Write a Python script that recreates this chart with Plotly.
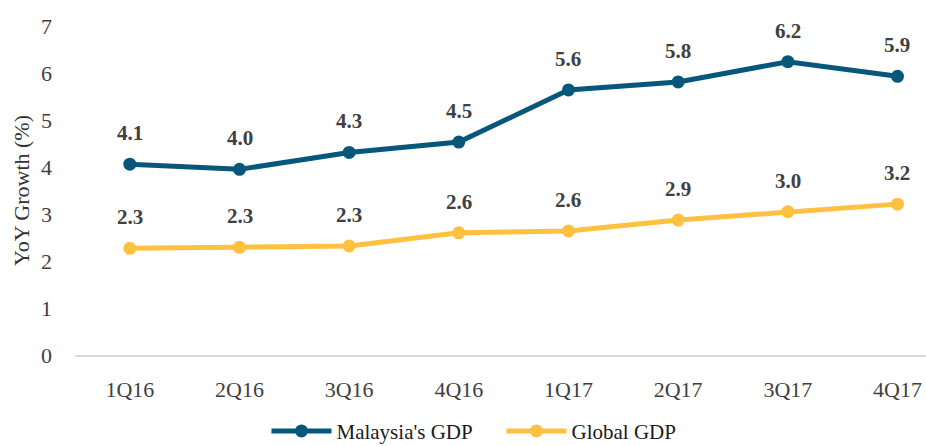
import plotly.graph_objects as go

categories = ["1Q16", "2Q16", "3Q16", "4Q16", "1Q17", "2Q17", "3Q17", "4Q17"]
malaysia = [4.06, 3.95, 4.31, 4.53, 5.64, 5.81, 6.24, 5.93]
global_gdp = [2.27, 2.29, 2.32, 2.60, 2.64, 2.87, 3.05, 3.21]
malaysia_labels = ["4.1", "4.0", "4.3", "4.5", "5.6", "5.8", "6.2", "5.9"]
global_labels = ["2.3", "2.3", "2.3", "2.6", "2.6", "2.9", "3.0", "3.2"]
y_ticks = [0, 1, 2, 3, 4, 5, 6, 7]

FONT = "Liberation Serif"
teal = "#07577A"
gold = "#FFC13F"

fig = go.Figure()
fig.add_trace(go.Scatter(x=categories, y=malaysia, mode="lines+markers", name="Malaysia's GDP",
                         line=dict(color=teal, width=5), marker=dict(size=13, color=teal)))
fig.add_trace(go.Scatter(x=categories, y=global_gdp, mode="lines+markers", name="Global GDP",
                         line=dict(color=gold, width=5), marker=dict(size=13, color=gold)))

for xs, ys, labels in [(categories, malaysia, malaysia_labels), (categories, global_gdp, global_labels)]:
    for c, v, t in zip(xs, ys, labels):
        fig.add_annotation(x=c, y=v, text="<b>" + t + "</b>", showarrow=False, yshift=31,
                           font=dict(family=FONT, size=21, color="#404040"))

fig.update_layout(
    width=926, height=446,
    margin=dict(l=75, r=0, t=26, b=91, autoexpand=False),
    paper_bgcolor="white", plot_bgcolor="white",
    font=dict(family=FONT, size=21, color="#404040"),
    showlegend=True,
    legend=dict(orientation="h", x=0.225, xanchor="left", yref="container", y=0.033, yanchor="middle",
                font=dict(family=FONT, size=21, color="#1a1a1a"), itemwidth=60, entrywidth=160),
)
fig.update_xaxes(type="category", range=[-0.5, 7.26], showgrid=False, showline=True, automargin=False,
                 linecolor="#D9D9D9", linewidth=2, ticks="", tickfont=dict(size=22, color="#404040"),
                 ticklabelstandoff=14)
fig.update_yaxes(range=[0, 7], tickvals=y_ticks, showgrid=False, zeroline=False, showline=False,
                 automargin=False,
                 tickfont=dict(size=22, color="#404040"), ticklabelstandoff=22,
                 title=dict(text="YoY Growth (%)", font=dict(size=22, color="#333333"), standoff=5))

fig.write_html("out.html", config={"displayModeBar": False},
               post_script="document.body.style.margin='0';document.body.style.overflow='hidden';")
